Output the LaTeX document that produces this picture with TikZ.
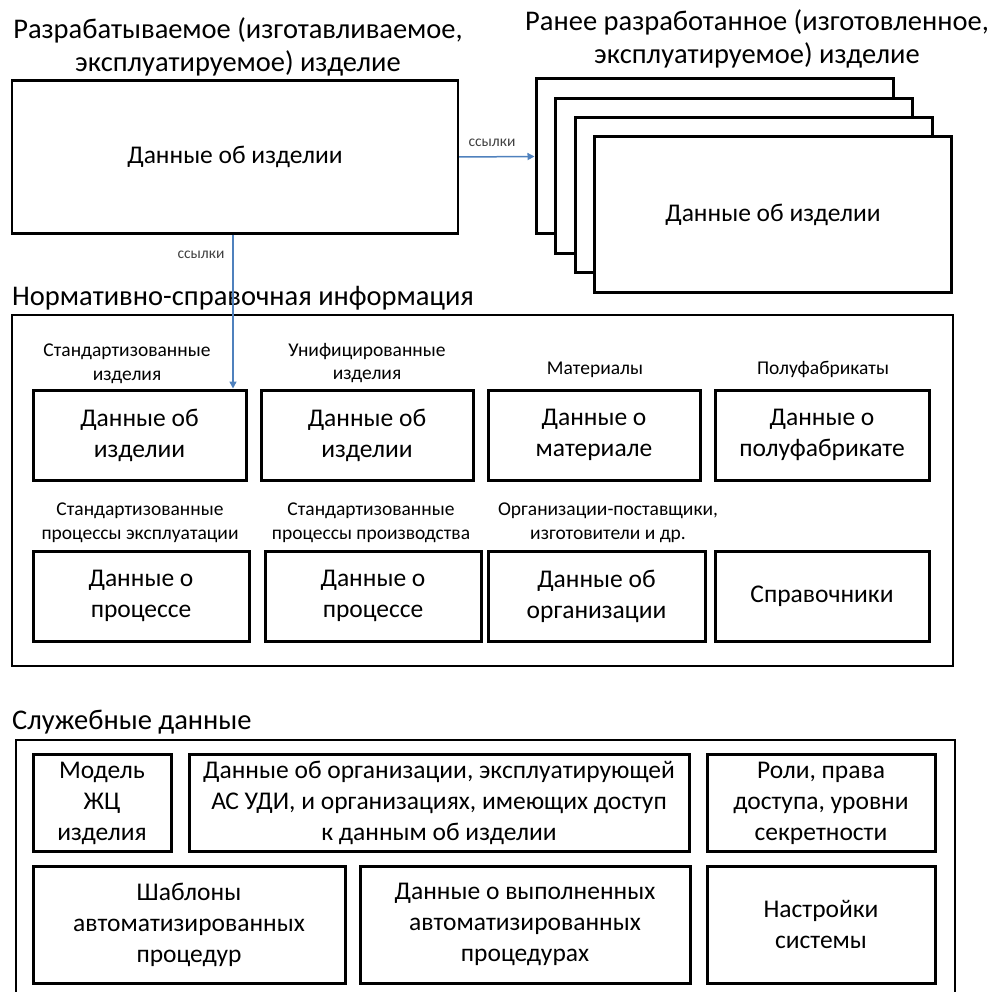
\documentclass[tikz,border=0pt]{standalone}
\usepackage{fontspec}
\setmainfont{Carlito}
\usetikzlibrary{arrows.meta}
\definecolor{linkblue}{RGB}{79,129,189}
\begin{document}
\begin{tikzpicture}[x=1pt,y=-1pt,
  titletext/.style={inner sep=0pt,font=\fontsize{28.5}{33}\selectfont,align=center},
  boxtext/.style={font=\fontsize{25.5}{31}\selectfont,align=center},
  smalltext/.style={inner sep=0pt,font=\fontsize{19.5}{23.5}\selectfont,align=center},
  linktext/.style={inner sep=0pt,font=\fontsize{15.5}{17}\selectfont,text=black!75},
  bigbox/.style={draw,line width=2.2pt,fill=white,inner sep=0pt,boxtext},
  outerbox/.style={draw,line width=2pt,inner sep=0pt},
  cell/.style={draw,line width=3pt,inner sep=0pt,boxtext},
  link/.style={draw=linkblue,line width=1.5pt,-{Triangle[length=7pt,width=7pt]}}
]
\useasboundingbox (0,0) rectangle (990,992);
% titles
\node[titletext] (t1) at (238,47) {Разрабатываемое (изготавливаемое,\\эксплуатируемое) изделие};
\node[titletext] (t2) at (757,39) {Ранее разработанное (изготовленное,\\эксплуатируемое) изделие};
% main product box
\node[bigbox,minimum width=446,minimum height=153] (main) at (235,157) {Данные об изделии};
% stack
\node[bigbox,line width=3pt,minimum width=357,minimum height=155] (s1) at (714.5,156.5) {};
\node[bigbox,line width=3pt,minimum width=357,minimum height=155] (s2) at (734,176) {};
\node[bigbox,line width=3pt,minimum width=357,minimum height=155] (s3) at (753.5,195) {};
\node[bigbox,line width=3pt,minimum width=357,minimum height=155] (s4) at (773,214.5) {Данные об изделии};
% NSI
\node[titletext,anchor=west] (t3) at (12,298) {Нормативно-справочная информация};
\node[outerbox,minimum width=941,minimum height=351] (nsi) at (482.5,490.5) {};
\node[cell,minimum width=213,minimum height=90] (r1a) at (139.5,435) {Данные об\\изделии};
\node[cell,minimum width=212,minimum height=90] (r1b) at (367,435) {Данные об\\изделии};
\node[cell,minimum width=212,minimum height=90] (r1c) at (594,435) {Данные о\\материале};
\node[cell,minimum width=214,minimum height=90] (r1d) at (822,435) {Данные о\\полуфабрикате};
\node[smalltext] (l1a) at (127,364) {Стандартизованные\\изделия};
\node[smalltext] (l1b) at (367,363) {Унифицированные\\изделия};
\node[smalltext,anchor=base] (l1c) at (595,374) {Материалы};
\node[smalltext,anchor=base] (l1d) at (823,374) {Полуфабрикаты};
\node[cell,minimum width=216,minimum height=90] (r2a) at (141,596) {Данные о\\процессе};
\node[cell,minimum width=216,minimum height=90] (r2b) at (373,596) {Данные о\\процессе};
\node[cell,minimum width=217,minimum height=90] (r2c) at (596.5,596) {Данные об\\организации};
\node[cell,minimum width=214,minimum height=90] (r2d) at (822,596) {Справочники};
\node[smalltext] (l2a) at (140,523) {Стандартизованные\\процессы эксплуатации};
\node[smalltext] (l2b) at (371,523) {Стандартизованные\\процессы производства};
\node[smalltext] (l2c) at (608,523) {Организации-поставщики,\\изготовители и др.};
% service data
\node[titletext,anchor=west] (t4) at (12,722) {Служебные данные};
\draw[line width=2pt] (16,1005) -- (16,740) -- (955,740) -- (955,1005);
\node[cell,minimum width=138,minimum height=97] (q1) at (102,803) {Модель\\ЖЦ\\изделия};
\node[cell,minimum width=500,minimum height=97] (q2) at (439,803) {Данные об организации, эксплуатирующей\\АС УДИ, и организациях, имеющих доступ\\к данным об изделии};
\node[cell,minimum width=228,minimum height=97] (q3) at (821,803) {Роли, права\\доступа, уровни\\секретности};
\node[cell,minimum width=312,minimum height=117] (q4) at (189,924.5) {Шаблоны\\автоматизированных\\процедур};
\node[cell,minimum width=330,minimum height=117] (q5) at (525,924.5) {Данные о выполненных\\автоматизированных\\процедурах};
\node[cell,minimum width=228,minimum height=117] (q6) at (821,924.5) {Настройки\\системы};
% links
\coordinate (ax) at (233,0);
\draw[link] (main.east) -- (s1.west);
\node[linktext] (k1) at (492,143) {ссылки};
\draw[link] (main.south -| ax) -- (r1a.north -| ax);
\node[linktext] (k2) at (201,255) {ссылки};
\end{tikzpicture}
\end{document}
